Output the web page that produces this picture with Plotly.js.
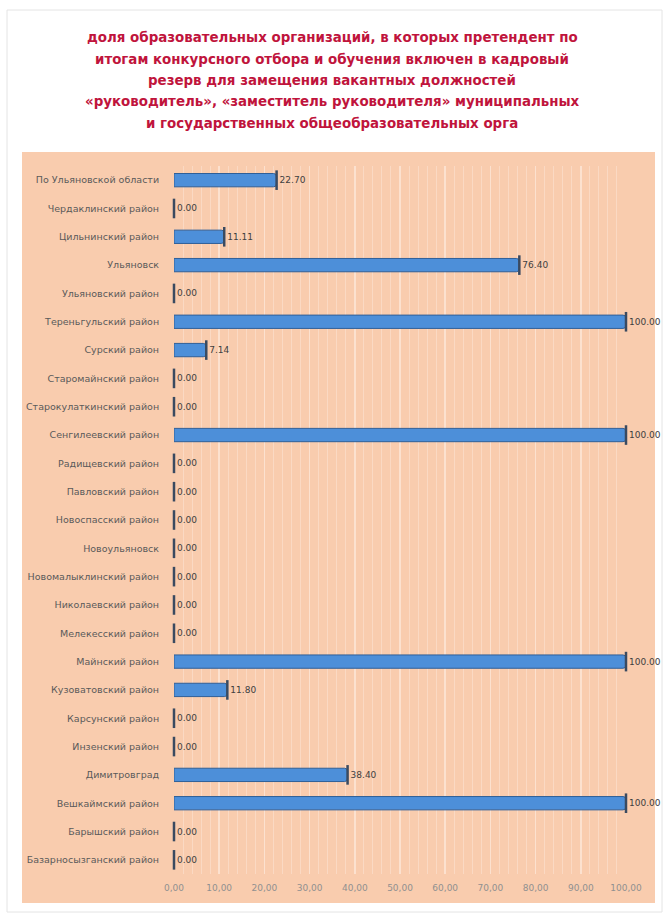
<!DOCTYPE html>
<html>
<head>
<meta charset="utf-8">
<script src="https://cdn.plot.ly/plotly-3.0.1.min.js"></script>
<style>html,body{margin:0;padding:0;background:#fff;}#chart{width:663px;height:913px;}</style>
</head>
<body>
<div id="chart"></div>
<script>
const titleLines = [
  "доля образовательных организаций, в которых претендент по",
  "итогам конкурсного отбора и обучения включен в кадровый",
  "резерв для замещения вакантных должностей",
  "«руководитель», «заместитель руководителя» муниципальных",
  "и государственных общеобразовательных орга"
];
const categories = [
  "По Ульяновской области",
  "Чердаклинский район",
  "Цильнинский район",
  "Ульяновск",
  "Ульяновский район",
  "Тереньгульский район",
  "Сурский район",
  "Старомайнский район",
  "Старокулаткинский район",
  "Сенгилеевский район",
  "Радищевский район",
  "Павловский район",
  "Новоспасский район",
  "Новоульяновск",
  "Новомалыклинский район",
  "Николаевский район",
  "Мелекесский район",
  "Майнский район",
  "Кузоватовский район",
  "Карсунский район",
  "Инзенский район",
  "Димитровград",
  "Вешкаймский район",
  "Барышский район",
  "Базарносызганский район"
];
const values = [22.70, 0, 11.11, 76.40, 0, 100, 7.14, 0, 0, 100, 0, 0, 0, 0, 0, 0, 0, 100, 11.80, 0, 0, 38.40, 100, 0, 0];
const tickValues = [0, 10, 20, 30, 40, 50, 60, 70, 80, 90, 100];
const tickLabels = ["0,00", "10,00", "20,00", "30,00", "40,00", "50,00", "60,00", "70,00", "80,00", "90,00", "100,00"];

const W = 663, H = 913;
const m = {l: 174, r: 37, t: 166, b: 39};
const pw = W - m.l - m.r, ph = H - m.t - m.b;
const px = x => (x - m.l) / pw;
const py = y => (H - m.b - y) / ph;

const labels = values.map(v => v.toFixed(2));

const bars = {
  type: 'bar', orientation: 'h', x: values, y: categories,
  marker: {color: '#4d8fd9', line: {color: '#2f5f98', width: 1}, cornerradius: 3},
  text: labels, textposition: 'outside', cliponaxis: false,
  textfont: {family: 'DejaVu Sans, sans-serif', size: 9, color: '#404040'},
  hoverinfo: 'skip'
};
const caps = {
  type: 'scatter', mode: 'markers', x: values, y: categories,
  marker: {symbol: 'line-ns', size: 14, line: {color: '#3a4a60', width: 2.5}},
  cliponaxis: false, hoverinfo: 'skip'
};

const annotations = titleLines.map((t, i) => ({
  text: '<b>' + t + '</b>', xref: 'paper', yref: 'paper',
  x: px(332), y: py(38 + i * 21.3), xanchor: 'center', yanchor: 'middle',
  showarrow: false, font: {family: 'DejaVu Sans, sans-serif', size: 13.4, color: '#c0143c'}
}));

const layout = {
  width: W, height: H, margin: m, showlegend: false,
  paper_bgcolor: '#ffffff', plot_bgcolor: 'rgba(0,0,0,0)',
  bargap: 0.53,
  font: {family: 'DejaVu Sans, sans-serif'},
  xaxis: {
    range: [0, 100], tickvals: tickValues, ticktext: tickLabels,
    tickfont: {size: 9, color: '#909090'}, showgrid: true, gridcolor: '#fce1cf', gridwidth: 1.5,
    ticks: 'outside', ticklen: 5, tickcolor: 'rgba(0,0,0,0)',
    minor: {dtick: 2, showgrid: true, gridcolor: '#fbd9c3', gridwidth: 1},
    zeroline: false, showline: false, fixedrange: true
  },
  yaxis: {
    type: 'category', range: [categories.length - 0.5, -0.5], autorange: false,
    showgrid: false, zeroline: false,
    tickfont: {size: 9.5, color: '#5a5a5a'}, ticks: 'outside', ticklen: 12, tickcolor: 'rgba(0,0,0,0)',
    fixedrange: true
  },
  shapes: [
    {type: 'rect', xref: 'paper', yref: 'paper', x0: px(7), x1: px(662), y0: py(912), y1: py(10),
     fillcolor: '#ffffff', line: {color: '#e4e4e4', width: 1}, layer: 'below'},
    {type: 'rect', xref: 'paper', yref: 'paper', x0: px(22), x1: px(655), y0: py(903), y1: py(152),
     fillcolor: '#f9ccae', line: {width: 0}, layer: 'below'}
  ],
  annotations: annotations
};

Plotly.newPlot('chart', [bars, caps], layout, {displayModeBar: false, staticPlot: true});
</script>
</body>
</html>
